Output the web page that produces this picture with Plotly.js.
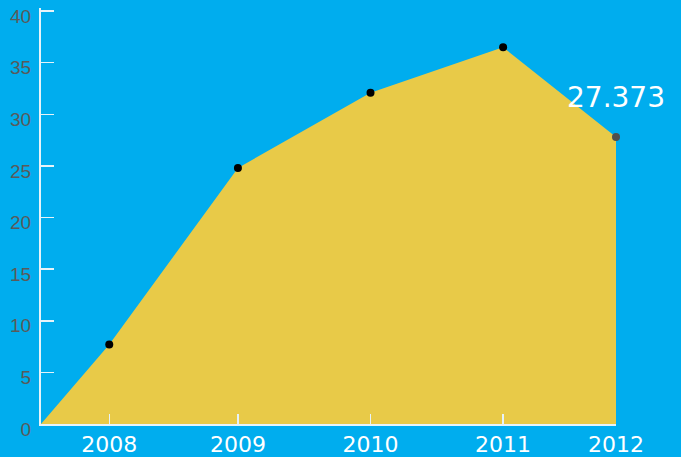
<!DOCTYPE html>
<html>
<head>
<meta charset="utf-8">
<script src="https://cdn.plot.ly/plotly-3.0.1.min.js"></script>
<style>
  html, body { margin: 0; padding: 0; background: #00ADEE; }
  #chart { width: 681px; height: 457px; }
</style>
</head>
<body>
<div id="chart"></div>
<script>
// Data
const yearLabels = ["2008", "2009", "2010", "2011", "2012"];
const yearPos = [2008, 2008.98, 2009.99, 2011, 2011.86];
const values = [7.7, 24.8, 32.1, 36.5, 27.8];
const originPos = 2007.48;
const originValue = 0;
const lastLabel = "27.373";
const yTicks = [0, 5, 10, 15, 20, 25, 30, 35, 40];

const areaX = [originPos].concat(yearPos);
const areaY = [originValue].concat(values);

const markerColors = values.map((v, i) => i === values.length - 1 ? "#4f4f4f" : "#000000");

const traces = [
  {
    x: areaX, y: areaY, type: "scatter", mode: "lines",
    fill: "tozeroy", fillcolor: "#E8CA48",
    line: { width: 0, color: "#E8CA48" },
    hoverinfo: "skip", showlegend: false
  },
  {
    x: yearPos, y: values, type: "scatter", mode: "markers",
    marker: { size: 8, color: markerColors },
    cliponaxis: false, showlegend: false
  }
];

const n = values.length - 1;
const layout = {
  width: 681, height: 457,
  paper_bgcolor: "#00ADEE", plot_bgcolor: "#00ADEE",
  margin: { l: 41, r: 65, t: 8, b: 33, pad: 0 },
  showlegend: false,
  xaxis: {
    range: [originPos, yearPos[n]],
    tickvals: yearPos, ticktext: yearLabels,
    showgrid: false, zeroline: false,
    showline: true, linecolor: "#E6F3F9", linewidth: 2,
    ticks: "inside", ticklen: 10, tickcolor: "#E6F3F9", tickwidth: 1.5,
    tickfont: { family: "'DejaVu Sans', sans-serif", size: 22, color: "#FFFFFF" },
    ticklabelstandoff: 0
  },
  yaxis: {
    range: [0, 40.3],
    tickvals: yTicks,
    showgrid: false, zeroline: false,
    showline: true, linecolor: "#E6F3F9", linewidth: 2,
    ticks: "inside", ticklen: 13, tickcolor: "#E6F3F9", tickwidth: 1.5,
    tickfont: { family: "'Liberation Sans', Arial, sans-serif", size: 19, color: "#5A5A5A" },
    ticklabelstandoff: 4,
    ticklabelshift: 5,
    ticklabeloverflow: "allow"
  },
  annotations: [{
    x: yearPos[n], y: values[n], xref: "x", yref: "y",
    text: lastLabel, showarrow: false,
    yshift: 40, xanchor: "center", yanchor: "middle",
    font: { family: "'DejaVu Sans', sans-serif", size: 28, color: "#FFFFFF" }
  }]
};

Plotly.newPlot("chart", traces, layout, { displayModeBar: false, staticPlot: true });
</script>
</body>
</html>
